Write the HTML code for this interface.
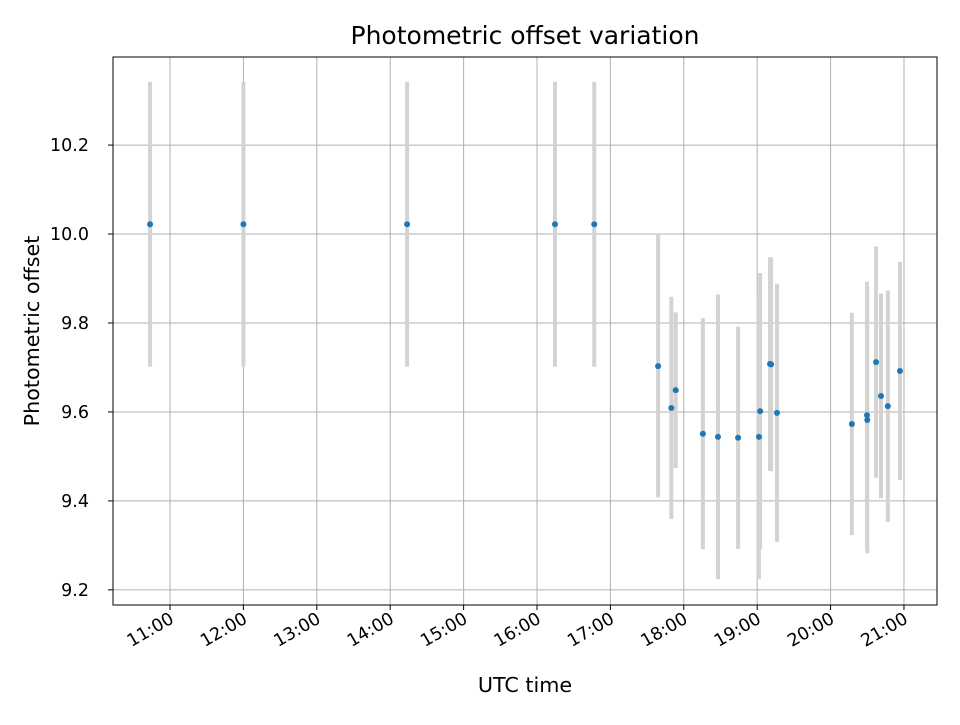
<!DOCTYPE html>
<html><head><meta charset="utf-8"><style>
body{margin:0;background:#fff;font-family:"Liberation Sans","DejaVu Sans",sans-serif}
svg text{font-family:"DejaVu Sans","Liberation Sans",sans-serif;fill:#000}
</style></head><body>
<svg id="chart" width="960" height="720" xmlns="http://www.w3.org/2000/svg">
<rect width="960" height="720" fill="#fff"/>
<text x="525" y="44" font-size="25" text-anchor="middle">Photometric offset variation</text>
<g id="grid"></g><g id="bars"></g><g id="dots"></g><g id="axes"></g>
<text x="525" y="692" font-size="20.7" text-anchor="middle">UTC time</text>
<text transform="translate(39,331) rotate(-90)" font-size="20.7" text-anchor="middle">Photometric offset</text>
</svg>
<script>
const times=[10.728,12.0,14.23,16.245,16.78,17.65,17.83,17.89,18.26,18.466,18.74,19.024,19.04,19.175,19.19,19.27,20.29,20.496,20.50,20.62,20.687,20.78,20.945];
const offsets=[10.022,10.022,10.022,10.022,10.022,9.703,9.609,9.649,9.551,9.544,9.542,9.544,9.602,9.708,9.707,9.598,9.573,9.593,9.582,9.712,9.636,9.613,9.692];
const errors=[0.32,0.32,0.32,0.32,0.32,0.295,0.25,0.175,0.26,0.32,0.25,0.32,0.31,0.24,0.24,0.29,0.25,0.30,0.30,0.26,0.23,0.26,0.245];
const xTickHours=[11,12,13,14,15,16,17,18,19,20,21];
const xTickLabels=["11:00","12:00","13:00","14:00","15:00","16:00","17:00","18:00","19:00","20:00","21:00"];
const yTicks=[9.2,9.4,9.6,9.8,10.0,10.2];
const yTickLabels=["9.2","9.4","9.6","9.8","10.0","10.2"];
const L=113,R=937,T=57,B=605,X0=10.223,X1=21.45,Y0=9.166,Y1=10.398;
const sx=h=>L+(h-X0)/(X1-X0)*(R-L);
const sy=v=>B-(v-Y0)/(Y1-Y0)*(B-T);
const NS="http://www.w3.org/2000/svg";
function mk(tag,attrs,parent){const e=document.createElementNS(NS,tag);for(const k in attrs)e.setAttribute(k,attrs[k]);document.getElementById(parent).appendChild(e);return e;}
xTickHours.forEach((h,i)=>{
 const x=sx(h);
 const g=mk('line',{x1:x,x2:x,y1:T,y2:B,stroke:'#b0b0b0','stroke-width':1},'grid');
 
 
 const t=mk('line',{x1:x,x2:x,y1:B,y2:B+5,stroke:'#000','stroke-width':1},'axes');
 
 
 const lb=mk('text',{x:x+5,y:B+17,'font-size':17.5,'text-anchor':'end',transform:`rotate(-30 ${x+5} ${B+17})`},'axes');
 lb.textContent=xTickLabels[i];
 
 
});
yTicks.forEach((v,i)=>{
 const y=sy(v);
 const g=mk('line',{x1:L,x2:R,y1:y,y2:y,stroke:'#b0b0b0','stroke-width':1},'grid');
 
 
 const t=mk('line',{x1:L-5,x2:L,y1:y,y2:y,stroke:'#000','stroke-width':1},'axes');
 
 
 const lb=mk('text',{x:L-24,y:y+6,'font-size':17.5,'text-anchor':'end'},'axes');
 lb.textContent=yTickLabels[i];
 
 
});
const fr=mk('rect',{x:L,y:T,width:R-L,height:B-T,fill:'none',stroke:'#000','stroke-width':1},'axes');


times.forEach((h,i)=>{
 const x=sx(h);
 const b=mk('line',{x1:x,x2:x,y1:sy(offsets[i]+errors[i]),y2:sy(offsets[i]-errors[i]),stroke:'#d3d3d3','stroke-width':4},'bars');
 
 
 const d=mk('circle',{cx:x,cy:sy(offsets[i]),r:3,fill:'#1f77b4'},'dots');
 
 
});
</script>
</body></html>
